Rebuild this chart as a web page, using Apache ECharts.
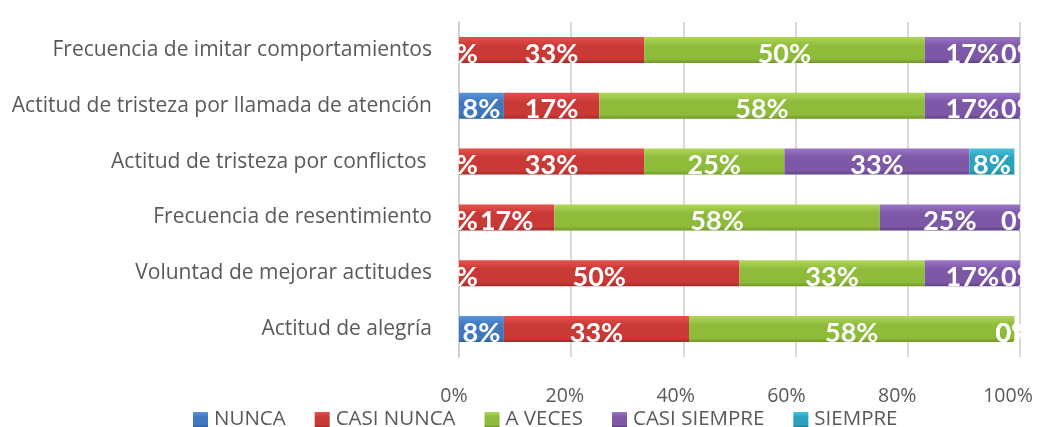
<!DOCTYPE html>
<html>
<head>
<meta charset="utf-8">
<script src="https://cdn.jsdelivr.net/npm/echarts@6/dist/echarts.min.js"></script>
<style>
  html, body { margin: 0; padding: 0; background: #fff; }
  #chart { width: 1037px; height: 427px; }
</style>
</head>
<body>
<div id="chart"></div>
<script>
// categorias (de abajo hacia arriba, como las dibuja el eje)
const categories = [
  'Actitud de alegría',
  'Voluntad de mejorar actitudes',
  'Frecuencia de resentimiento',
  'Actitud de tristeza por conflictos ',
  'Actitud de tristeza por llamada de atención',
  'Frecuencia de imitar comportamientos'
];
const seriesNames = ['NUNCA', 'CASI NUNCA', 'A VECES', 'CASI SIEMPRE', 'SIEMPRE'];
// porcentajes por serie
const nunca       = [8, 0, 0, 0, 8, 0];
const casiNunca   = [33, 50, 17, 33, 17, 33];
const aVeces      = [58, 33, 58, 25, 58, 50];
const casiSiempre = [0, 17, 25, 33, 17, 17];
const siempre     = [0, 0, 0, 8, 0, 0];
const xTicks = [0, 20, 40, 60, 80, 100];

// colores: claro arriba, oscuro abajo (efecto 3D de Excel)
const colors = [
  ['#5a93d6', '#3f78c0', '#2c5f9e'],
  ['#e5504d', '#c93a37', '#a12a28'],
  ['#b0d657', '#8fbb3b', '#6e962a'],
  ['#9a76c4', '#7c58a6', '#5f4185'],
  ['#45c3dd', '#2ba2bd', '#1b7f97']
];
const values = [nunca, casiNunca, aVeces, casiSiempre, siempre];

function grad(c) {
  return new echarts.graphic.LinearGradient(0, 0, 0, 1, [
    { offset: 0, color: c[0] },
    { offset: 0.35, color: c[1] },
    { offset: 0.85, color: c[1] },
    { offset: 1, color: c[2] }
  ]);
}

const chart = echarts.init(document.getElementById('chart'));

const series = seriesNames.map((name, i) => ({
  name: name,
  type: 'bar',
  stack: 'total',
  barWidth: 26,
  data: values[i],
  itemStyle: { color: grad(colors[i]) },
  label: {
    show: true,
    position: 'inside',
    offset: [0, 4],
    formatter: p => p.value + '%',
    color: '#fff',
    fontFamily: 'Lato',
    fontWeight: 'bold',
    fontSize: 27
  }
}));

chart.setOption({
  animation: false,
  color: colors.map(c => c[1]),
  grid: [
    { left: 459, right: 17, top: 22, bottom: 70, outerBoundsMode: 'none' },
    // segundo grid solo para las etiquetas del eje x (en Excel 3D quedan algo corridas)
    { left: 454, right: 29, top: 22, bottom: 70, outerBoundsMode: 'none' }
  ],
  legend: {
    top: 404,
    left: 188,
    itemWidth: 15,
    itemHeight: 15,
    itemGap: 29,
    icon: 'rect',
    textStyle: { color: '#595959', fontSize: 20.5, fontFamily: 'Open Sans', padding: [0, 0, 0, 1] },
    data: seriesNames
  },
  xAxis: [{
    type: 'value',
    min: 0,
    max: 100,
    interval: 20,
    axisLabel: { show: false },
    axisLine: { show: false },
    axisTick: { show: false },
    splitLine: { lineStyle: { color: '#d9d9d9', width: 2 } }
  }, {
    type: 'value',
    gridIndex: 1,
    min: 0,
    max: 100,
    interval: 20,
    axisLabel: {
      formatter: v => xTicks.includes(v) ? v + '%' : '',
      color: '#595959',
      fontSize: 19.5,
      fontFamily: 'Open Sans',
      margin: 29
    },
    axisLine: { show: false },
    axisTick: { show: false },
    splitLine: { show: false }
  }],
  yAxis: [{
    type: 'category',
    data: categories,
    axisLabel: {
      color: '#595959',
      fontSize: 21,
      fontFamily: 'Open Sans',
      margin: 27
    },
    axisLine: { show: true, lineStyle: { color: '#d0d0d0', width: 2 } },
    axisTick: { show: false }
  }, {
    type: 'category',
    gridIndex: 1,
    data: categories,
    show: false
  }],
  series: series
});
</script>
</body>
</html>
